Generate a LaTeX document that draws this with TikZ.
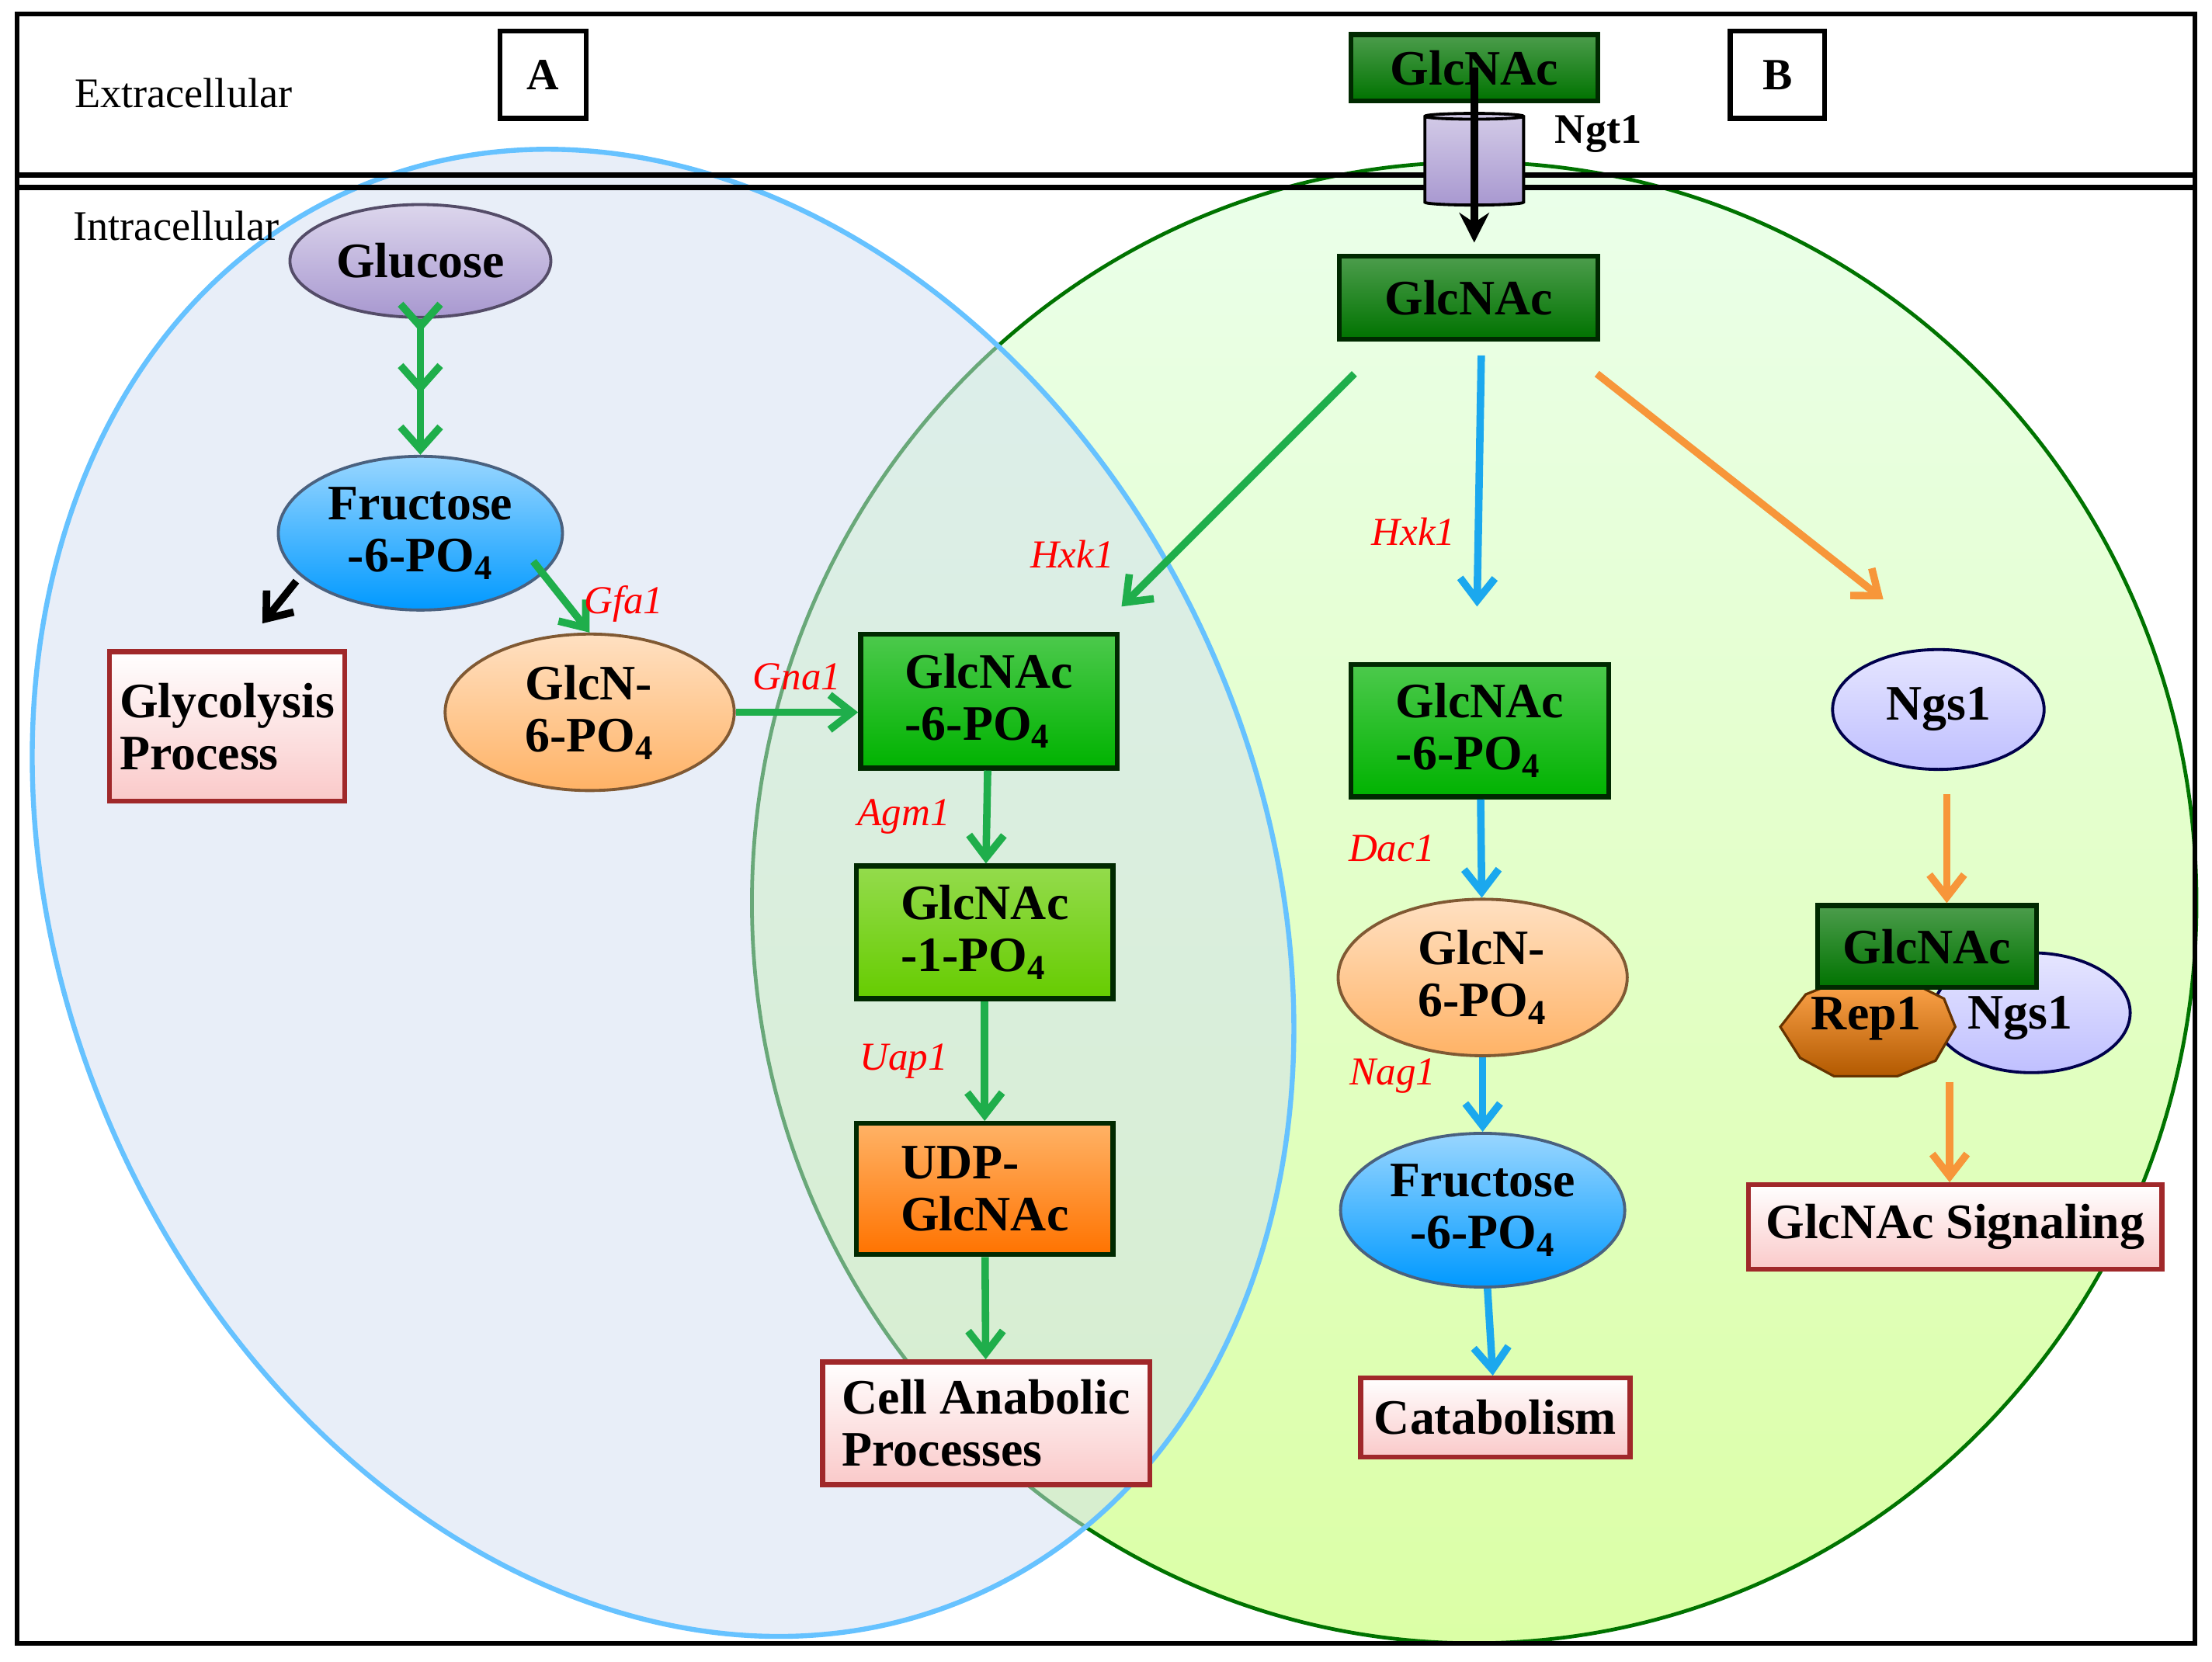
\documentclass[tikz,border=0pt]{standalone}
\usepackage{fontspec}
\setmainfont{Liberation Serif}
\usetikzlibrary{arrows.meta,shapes.geometric}
\definecolor{gar}{HTML}{1FAE4B}
\definecolor{bar}{HTML}{1BA8EE}
\definecolor{oar}{HTML}{F7963A}
\definecolor{pinkb}{HTML}{FAC9C9}
\definecolor{redb}{HTML}{A0282A}
\definecolor{lav}{HTML}{A898D0}
\begin{document}
\begin{tikzpicture}[x=0.02cm,y=-0.02cm,
 txt/.style={font=\fontsize{20}{21}\selectfont\bfseries},
 lab/.style={font=\fontsize{16}{18}\selectfont\itshape, text=red},
 box/.style={txt, draw, line width=2pt, inner sep=2pt, align=left},
 pinkbox/.style={box, draw=redb, top color=white, bottom color=pinkb},
 gbox/.style={box, draw=black!60!green!40!black, top color=#1!70!white, bottom color=#1},
 ell/.style={txt, ellipse, draw=#1!50!black, line width=1.2pt, top color=#1!40!white, bottom color=#1, align=left},
 ga/.style={-{Straight Barb[length=9pt,width=14pt]}, line width=3pt, gar},
 ba/.style={-{Straight Barb[length=9pt,width=14pt]}, line width=3pt, bar},
 oa/.style={-{Straight Barb[length=9pt,width=14pt]}, line width=3pt, oar}]
\useasboundingbox (0,0) rectangle (1568,1178);
% ellipses
\draw[draw=green!45!black, line width=1.5pt, top color=green!8!white, bottom color=green!40!yellow!35!white]
 (1045,640) ellipse [x radius=512, y radius=525];
\draw[draw=blue!40!cyan!60!white, line width=2pt, fill={rgb,255:red,210;green,222;blue,242}, fill opacity=0.5]
 [rotate around={24:(470,633)}] (470,633) ellipse [x radius=425, y radius=545];
% frame
\draw[line width=2pt] (12,10) rectangle (1556,1165);
\draw[line width=2pt] (12,124) -- (1556,124);
\draw[line width=2pt] (12,133) -- (1556,133);
\node[font=\fontsize{17}{18}\selectfont] (ext) at (130,66) {Extracellular};
\node[font=\fontsize{17}{18}\selectfont] (int) at (125,160) {Intracellular};
\node[draw, line width=2pt, minimum width=1.22cm, minimum height=1.24cm, font=\fontsize{18}{18}\selectfont\bfseries] (A) at (385,53) {A};
\node[draw, line width=2pt, minimum width=1.34cm, minimum height=1.24cm, font=\fontsize{18}{18}\selectfont\bfseries] (B) at (1260,53) {B};
% left
\node[ell=lav, minimum width=3.6cm, minimum height=1.6cm] (glc) at (298,185) {Glucose};
\node[ell=cyan!60!blue, minimum width=3.7cm, minimum height=1.7cm, align=center] (f6p) at (298,378) {Fructose\\-6-PO\textsubscript{4}};
\node[ell=orange!60!white, minimum width=4.1cm, minimum height=1.9cm] (gln6) at (418,505) {GlcN-\\6-PO\textsubscript{4}};
\node[pinkbox, minimum width=3.34cm, minimum height=2.12cm] (gly) at (161,515) {Glycolysis\\Process};
\node[gbox=green!70!black, minimum width=3.64cm, minimum height=1.9cm] (g6l) at (701,497) {GlcNAc\\-6-PO\textsubscript{4}};
\node[gbox=green!50!yellow!80!black, minimum width=3.64cm, minimum height=1.88cm] (g1) at (698,661) {GlcNAc\\-1-PO\textsubscript{4}};
\node[box, draw=black!60!green!40!black, top color=orange!60!white, bottom color=orange!90!red, minimum width=3.64cm, minimum height=1.86cm] (udp) at (698,843) {UDP-\\GlcNAc};
\node[pinkbox, minimum width=4.64cm, minimum height=1.74cm] (cell) at (699,1009) {Cell Anabolic\\Processes};
% right
\node[gbox=green!45!black, minimum width=3.5cm, minimum height=0.94cm] (gtop) at (1045,48) {GlcNAc};
\node[gbox=green!45!black, minimum width=3.66cm, minimum height=1.18cm] (gin) at (1041,211) {GlcNAc};
\node[gbox=green!70!black, minimum width=3.66cm, minimum height=1.88cm] (g6r) at (1049,518) {GlcNAc\\-6-PO\textsubscript{4}};
\node[ell=orange!60!white, minimum width=4.1cm, minimum height=1.9cm] (gln6r) at (1051,693) {GlcN-\\6-PO\textsubscript{4}};
\node[ell=cyan!60!blue, minimum width=3.6cm, minimum height=1.7cm, align=center] (f6pr) at (1051,858) {Fructose\\-6-PO\textsubscript{4}};
\node[pinkbox, minimum width=3.82cm, minimum height=1.12cm] (cat) at (1060,1005) {Catabolism};
\node[ell=blue!25!white, draw=blue!30!black, minimum width=3cm, minimum height=1.7cm] (ngs) at (1374,503) {Ngs1};
\node[ell=blue!25!white, draw=blue!30!black, minimum width=2.8cm, minimum height=1.7cm] (ngsb) at (1440,718) {\phantom{Ngs1}};
\node[txt] (ngsbt) at (1432,722) {Ngs1};
\filldraw[draw=orange!40!black, line width=1pt, top color=orange!70!white, bottom color=orange!70!black]
 (1262,728)--(1280,705)--(1305,695)--(1352,695)--(1378,708)--(1386,728)--(1372,752)--(1345,763)--(1300,763)--(1276,750)--cycle;
\node[txt] (rep) at (1323,722) {Rep1};
\node[gbox=green!45!black, minimum width=3.1cm, minimum height=1.16cm] (gc) at (1366,671) {GlcNAc};
\node[pinkbox, minimum width=5.86cm, minimum height=1.2cm] (sig) at (1386,870) {GlcNAc Signaling};
% transporter
\node[cylinder, shape border rotate=90, aspect=0.35, draw=black, line width=1.2pt, top color=lav!50!white, bottom color=lav, minimum width=1.4cm, minimum height=1.3cm] (ngt) at (1045,115) {};
\node[txt, font=\fontsize{17}{18}\selectfont\bfseries] (ngtl) at (1133,95) {Ngt1};
\coordinate (ngtend) at (1045,172);
\draw[line width=3pt, -{Stealth[length=12pt,width=12pt]}] (gtop.center) -- (ngtend);
% arrows left
\draw[-{Straight Barb[length=9pt,width=16pt,sep=12pt]Straight Barb[length=9pt,width=16pt,sep=12pt]Straight Barb[length=9pt,width=16pt]}, line width=3pt, gar] (glc.south) -- (f6p.north);
\coordinate (glyarr) at (186,442);
\draw[-{Straight Barb[length=9pt,width=14pt]}, line width=3pt] (210,412) -- (glyarr);
\draw[ga] (378,398) -- (gln6.north) node[lab, pos=0.6, right=2pt] {Gfa1};
\draw[ga] (gln6.east) -- (gln6.east -| g6l.west) node[lab, midway, above=4pt] {Gna1};
\draw[ga] (g6l) -- (g1) node[lab, midway, left=10pt] {Agm1};
\draw[ga] (g1) -- (udp) node[lab, midway, left=10pt] {Uap1};
\draw[ga] (udp) -- (cell);
% arrows right
\coordinate (hl) at (960,265); \coordinate (hl2) at (795,430);
\draw[ga] (hl) -- (hl2);
\node[lab] (hxk1a) at (760,393) {Hxk1};
\coordinate (hb) at (1050,252); \coordinate (hb2) at (1047,430);
\draw[ba] (hb) -- (hb2);
\node[lab] (hxk1b) at (1002,377) {Hxk1};
\coordinate (ho) at (1132,265); \coordinate (ho2) at (1335,425);
\draw[oa] (ho) -- (ho2);
\draw[ba] (g6r) -- (gln6r) node[lab, midway, left=14pt] {Dac1};
\draw[ba] (gln6r) -- (f6pr) node[lab, pos=0.25, left=14pt] {Nag1};
\draw[ba] (f6pr) -- (cat);
\draw[oa] (1380,563) -- (gc.north -| 1380,563);
\draw[oa] (1382,767) -- (sig.north -| 1382,767);
\end{tikzpicture}
\end{document}
